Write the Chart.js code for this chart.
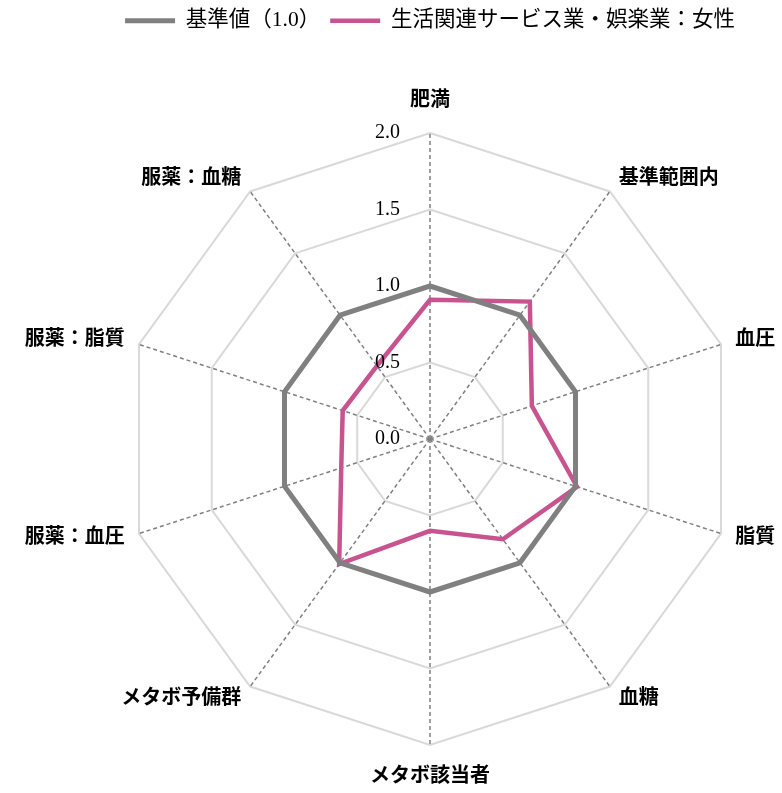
<!DOCTYPE html>
<html>
<head>
<meta charset="utf-8">
<script src="https://cdn.jsdelivr.net/npm/chart.js@4.4.1/dist/chart.umd.min.js"></script>
<style>
html, body { margin: 0; padding: 0; background: #fff; }
#wrap { width: 782px; height: 793px; }
</style>
</head>
<body>
<div id="wrap"><canvas id="radar"></canvas></div>
<script>
const categories = ['肥満', '基準範囲内', '血圧', '脂質', '血糖', 'メタボ該当者', 'メタボ予備群', '服薬：血圧', '服薬：脂質', '服薬：血糖'];
const baseValues = [1.0, 1.0, 1.0, 1.0, 1.0, 1.0, 1.0, 1.0, 1.0, 1.0];
const femaleValues = [0.91, 1.11, 0.70, 1.01, 0.81, 0.60, 1.01, 0.61, 0.60, 0.59];
const tickValues = [0.0, 0.5, 1.0, 1.5, 2.0];
const seriesNames = ['基準値（1.0）', '生活関連サービス業・娯楽業：女性'];

const fontFamily = '"Liberation Serif", "Noto Sans CJK JP", serif';

// push the plot area down below the legend
const legendSpace = {
    id: 'legendSpace',
    beforeInit(chart) {
        const fit = chart.legend.fit;
        chart.legend.fit = function () {
            fit.call(this);
            this.height = 133;
        };
    }
};

// category names, centred vertically on the end of each spoke
const categoryLabels = {
    id: 'categoryLabels',
    afterDraw(chart) {
        const scale = chart.scales.r;
        const ctx = chart.ctx;
        const n = chart.data.labels.length;
        ctx.save();
        ctx.font = 'bold 20px ' + fontFamily;
        ctx.fillStyle = '#000';
        ctx.textBaseline = 'middle';
        chart.data.labels.forEach((label, i) => {
            const top = i === 0 || i === n / 2;
            const pos = scale.getPointPosition(i, scale.drawingArea + (top ? 32 : 15));
            if (top) ctx.textAlign = 'center';
            else ctx.textAlign = i < n / 2 ? 'left' : 'right';
            ctx.fillText(label, pos.x, pos.y);
        });
        ctx.restore();
    }
};

// tick numbers sit left of the vertical axis, on top of the lines
const tickLabels = {
    id: 'tickLabels',
    afterDatasetsDraw(chart) {
        const scale = chart.scales.r;
        const ctx = chart.ctx;
        ctx.save();
        ctx.font = '20px ' + fontFamily;
        ctx.fillStyle = '#000';
        ctx.textAlign = 'right';
        ctx.textBaseline = 'middle';
        tickValues.forEach(v => {
            const y = scale.yCenter - scale.getDistanceFromCenterForValue(v);
            ctx.fillText(v.toFixed(1), scale.xCenter - 30, y);
        });
        ctx.restore();
    }
};

const ctx = document.getElementById('radar').getContext('2d');
new Chart(ctx, {
    type: 'radar',
    data: {
        labels: categories,
        datasets: [{
            label: seriesNames[0],
            data: baseValues,
            borderColor: '#808080',
            backgroundColor: '#808080',
            borderWidth: 5,
            borderCapStyle: 'round',
            fill: false,
            pointRadius: 0
        }, {
            label: seriesNames[1],
            data: femaleValues,
            borderColor: '#c8538f',
            backgroundColor: '#c8538f',
            borderWidth: 4.5,
            borderCapStyle: 'round',
            fill: false,
            pointRadius: 0
        }]
    },
    options: {
        responsive: true,
        maintainAspectRatio: false,
        animation: false,
        layout: {
            padding: { left: 80, right: 2, top: 0, bottom: 48 }
        },
        plugins: {
            legend: {
                position: 'top',
                labels: {
                    color: '#000',
                    font: { family: fontFamily, size: 21.5 },
                    usePointStyle: true,
                    pointStyle: 'line',
                    pointStyleWidth: 50,
                    padding: 10
                }
            },
            tooltip: { enabled: false }
        },
        scales: {
            r: {
                min: 0,
                max: 2,
                ticks: {
                    stepSize: 0.5,
                    display: false
                },
                grid: {
                    color: '#d9d9d9',
                    lineWidth: 2
                },
                angleLines: {
                    color: '#808080',
                    lineWidth: 1.5,
                    borderDash: [4, 3]
                },
                pointLabels: {
                    display: false
                }
            }
        }
    },
    plugins: [legendSpace, categoryLabels, tickLabels]
});
</script>
</body>
</html>
